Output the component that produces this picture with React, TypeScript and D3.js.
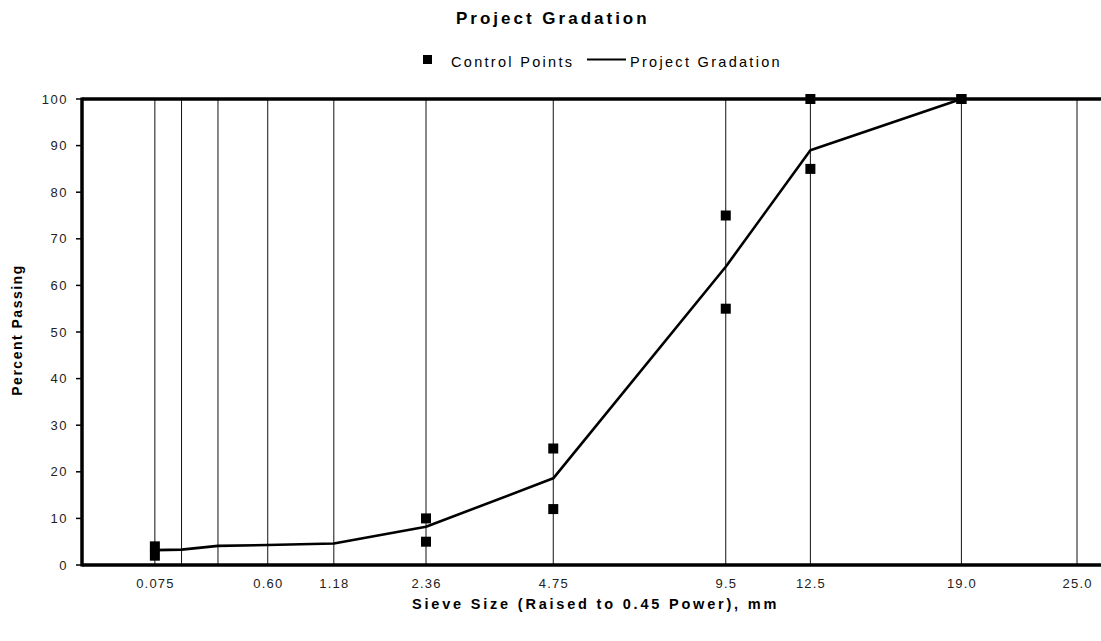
import React from "react";
import * as d3 from "d3";

const sieveSizes = [0.075, 0.15, 0.3, 0.6, 1.18, 2.36, 4.75, 9.5, 12.5, 19.0, 25.0];
const sieveLabels = ["0.075", "", "", "0.60", "1.18", "2.36", "4.75", "9.5", "12.5", "19.0", "25.0"];
const gradSizes = [0.075, 0.15, 0.3, 0.6, 1.18, 2.36, 4.75, 9.5, 12.5, 19.0];
const gradPassing = [3.2, 3.3, 4.1, 4.3, 4.6, 8.2, 18.6, 64, 89, 100];
const ctrlSizes = [0.075, 0.075, 2.36, 2.36, 4.75, 4.75, 9.5, 9.5, 12.5, 12.5, 19.0, 19.0];
const ctrlPassing = [2, 4, 5, 10, 12, 25, 55, 75, 85, 100, 100, 100];
const yTicks = [0, 10, 20, 30, 40, 50, 60, 70, 80, 90, 100];

const W = 1101, H = 641;
const left = 82, top = 99, bottom = 565, right = 1130;
const font = "Liberation Sans, Arial, sans-serif";

export default function App() {
  const p = (s: number) => Math.pow(s, 0.45);
  const x = d3.scaleLinear().domain([0, p(25)]).range([left, 1077]);
  const y = d3.scaleLinear().domain([0, 100]).range([bottom, top]);
  const line = d3.line<number>().x((d, i) => x(p(gradSizes[i]))).y((d) => y(d));
  return (
    <div style={{ position: "fixed", left: 0, top: 0 }}>
      <svg width={W} height={H} style={{ display: "block", background: "#fff" }}>
        <text x={456} y={24} fontFamily={font} fontWeight="bold" fontSize={17} letterSpacing={3}>Project Gradation</text>
        {/* legend */}
        <rect x={423} y={55} width={9} height={9} fill="#000" />
        <text x={451} y={67} fontFamily={font} fontSize={14.5} letterSpacing={2.3}>Control Points</text>
        <line x1={587} x2={626} y1={59.5} y2={59.5} stroke="#000" strokeWidth={2} />
        <text x={630} y={67} fontFamily={font} fontSize={14.5} letterSpacing={2.3}>Project Gradation</text>
        {/* vertical grid */}
        {sieveSizes.map((s, i) => (
          <line key={"g" + i} x1={x(p(s))} x2={x(p(s))} y1={top} y2={bottom} stroke="#111" strokeWidth={1} />
        ))}
        {/* y ticks */}
        {yTicks.map((t) => (
          <g key={"y" + t}>
            <line x1={left - 6} x2={left} y1={y(t)} y2={y(t)} stroke="#000" strokeWidth={1.5} />
            <text x={68} y={y(t) + 4.5} textAnchor="end" fontFamily={font} fontSize={13} letterSpacing={1.5} fill="#222">{t}</text>
          </g>
        ))}
        {sieveSizes.map((s, i) => (
          <text key={"xl" + i} x={x(p(s)) + 0.6} y={588} textAnchor="middle" fontFamily={font} fontSize={13} letterSpacing={1.2} fill="#222">{sieveLabels[i]}</text>
        ))}
        {/* frame */}
        <line x1={left} x2={left} y1={top - 1.5} y2={bottom + 1.5} stroke="#000" strokeWidth={3.5} />
        <line x1={left} x2={right} y1={top} y2={top} stroke="#000" strokeWidth={3.5} />
        <line x1={left} x2={right} y1={bottom} y2={bottom} stroke="#000" strokeWidth={3.5} />
        {/* gradation line */}
        <path d={line(gradPassing) || ""} fill="none" stroke="#000" strokeWidth={2.6} strokeLinejoin="round" />
        {/* control points */}
        {ctrlPassing.map((v, i) => (
          <rect key={"c" + i} x={x(p(ctrlSizes[i])) - 5} y={y(v) - 5} width={10} height={10} fill="#000" />
        ))}
        <text x={412} y={609} fontFamily={font} fontWeight="bold" fontSize={14.5} letterSpacing={2.8}>Sieve Size (Raised to 0.45 Power), mm</text>
        <text transform={`translate(22,${330}) rotate(-90)`} textAnchor="middle" fontFamily={font} fontWeight="bold" fontSize={14} letterSpacing={1.5}>Percent Passing</text>
      </svg>
    </div>
  );
}
